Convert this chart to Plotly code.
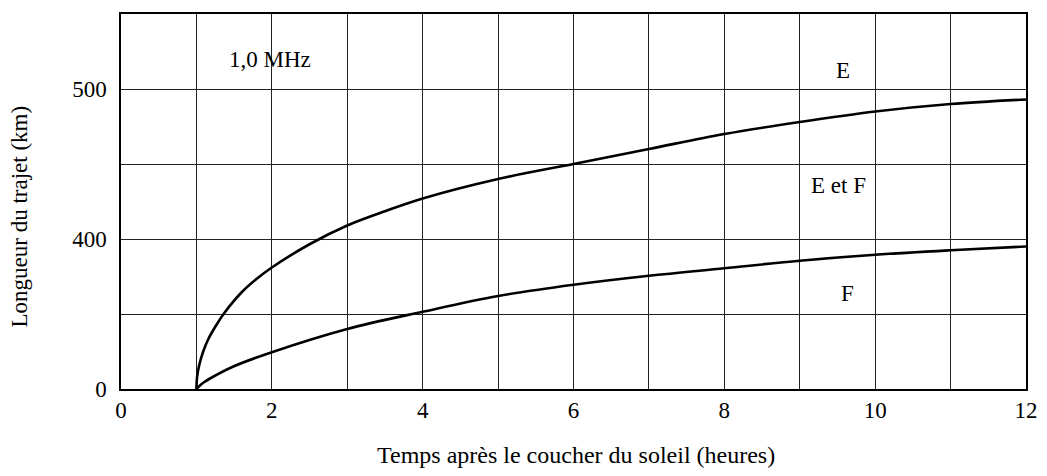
import plotly.graph_objects as go

# Time after sunset (hours)
e_time = [1.0, 1.01, 1.04, 1.09, 1.16, 1.25, 1.36, 1.6, 1.8, 2.0, 2.5, 3.0, 3.5, 4.0, 5.0, 6.0, 7.0, 8.0, 9.0, 10.0, 11.0, 12.0]
# E-layer limit, in axis grid units (0 -> "0", 2 -> "400", 4 -> "500")
e_path = [0.0, 0.17, 0.33, 0.50, 0.67, 0.83, 1.0, 1.29, 1.47, 1.62, 1.93, 2.18, 2.37, 2.54, 2.80, 3.00, 3.20, 3.40, 3.56, 3.70, 3.80, 3.86]

f_time = [1.0, 1.05, 1.1, 1.18, 1.49, 2.0, 3.0, 4.0, 5.0, 6.0, 7.0, 8.0, 9.0, 10.0, 11.0, 12.0]
f_path = [0.0, 0.05, 0.09, 0.14, 0.30, 0.49, 0.80, 1.03, 1.24, 1.39, 1.51, 1.61, 1.71, 1.79, 1.85, 1.90]

x_ticks = [0, 2, 4, 6, 8, 10, 12]
y_tickvals = [0, 1, 2, 3, 4, 5]
y_ticktext = ["0", "", "400", "", "500", ""]

labels = ["1,0 MHz", "E", "E et F", "F"]
label_x = [1.98, 9.58, 9.51, 9.63]
label_y = [4.40, 4.25, 2.71, 1.28]

FONT = "Liberation Serif"

fig = go.Figure()
fig.add_trace(go.Scatter(x=e_time, y=e_path, mode="lines",
                         line=dict(color="black", width=2.6, shape="spline", smoothing=1.0),
                         showlegend=False, hoverinfo="skip"))
fig.add_trace(go.Scatter(x=f_time, y=f_path, mode="lines",
                         line=dict(color="black", width=2.6, shape="spline", smoothing=1.0),
                         showlegend=False, hoverinfo="skip"))

for t, x, y in zip(labels, label_x, label_y):
    fig.add_annotation(x=x, y=y, text=t, showarrow=False, font=dict(family=FONT, size=23, color="black"),
                       xanchor="center", yanchor="middle")

fig.add_annotation(text="Temps après le coucher du soleil (heures)", xref="paper", yref="paper",
                   x=0.503, y=-0.175, showarrow=False, xanchor="center", yanchor="middle",
                   font=dict(family=FONT, size=24, color="black"))
fig.add_annotation(text="Longueur du trajet (km)", xref="paper", yref="paper",
                   x=-0.112, y=0.459, showarrow=False, xanchor="center", yanchor="middle", textangle=-90,
                   font=dict(family=FONT, size=23, color="black"))

# the page body adds an 8px margin, so the figure is drawn 8px smaller and offset
fig.update_layout(
    width=1039, height=468,
    margin=dict(l=113, r=21, t=4, b=87),
    paper_bgcolor="white", plot_bgcolor="white",
    font=dict(family=FONT, size=23, color="black"),
)
fig.update_xaxes(range=[0, 12], tickvals=x_ticks, showgrid=True,
                 gridcolor="#222", gridwidth=1, showline=True, linecolor="black", linewidth=1.5, mirror=True,
                 ticks="", zeroline=False, tickfont=dict(family=FONT, size=23, color="black"),
                 minor=dict(dtick=1, showgrid=True, gridcolor="#222", gridwidth=1))
fig.update_yaxes(range=[0, 5], tickvals=y_tickvals, ticktext=y_ticktext, showgrid=True,
                 gridcolor="#222", gridwidth=1, showline=True, linecolor="black", linewidth=1.5, mirror=True,
                 ticks="", zeroline=False, ticklabelstandoff=8, tickfont=dict(family=FONT, size=23, color="black"))

fig.write_html("out.html")
